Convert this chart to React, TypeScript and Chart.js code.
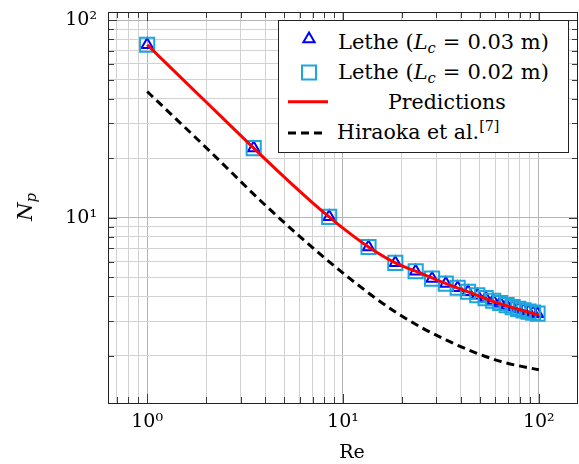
import React, { useEffect, useRef } from 'react';
import { Chart, registerables } from 'chart.js';

Chart.register(...registerables);

// ---------- data ----------
const reLethe = [1, 3.5, 8.5, 13.5, 18.5, 23.5, 28.5, 33.5, 38.5, 43.5, 48.5, 53.5, 58.5, 63.5, 68.5, 73.5, 78.5, 83.5, 88.5, 93.5, 98.5];
const npLethe003 = [75, 22.5, 10.1, 7.11, 5.91, 5.36, 4.92, 4.64, 4.42, 4.22, 4.05, 3.92, 3.8, 3.7, 3.61, 3.53, 3.46, 3.4, 3.35, 3.31, 3.27];
const npLethe002 = [75, 22.5, 10.1, 7.11, 5.91, 5.36, 4.92, 4.64, 4.42, 4.22, 4.05, 3.92, 3.8, 3.7, 3.61, 3.53, 3.46, 3.4, 3.35, 3.31, 3.27];

const rePred = [1, 2, 3.5, 5, 7, 8.5, 10, 13.5, 18.5, 23.5, 30, 40, 50, 60, 70, 80, 90, 100];
const npPred = [75, 38.5, 22.5, 16.1, 11.9, 10.1, 8.85, 7.11, 5.91, 5.36, 4.85, 4.35, 4.0, 3.74, 3.56, 3.42, 3.31, 3.22];

const reHiraoka = [1, 2.13, 3.89, 6.34, 10.9, 19.1, 33.8, 63.1, 100];
const npHiraoka = [43.5, 21.3, 11.9, 7.68, 4.9, 3.27, 2.4, 1.88, 1.7];

const xTickValues = [0.7, 0.8, 0.9, 1, 2, 3, 4, 5, 6, 7, 8, 9, 10, 20, 30, 40, 50, 60, 70, 80, 90, 100];
const yTickValues = [2, 3, 4, 5, 6, 7, 8, 9, 10, 20, 30, 40, 50, 60, 70, 80, 90, 100];
const xMin = 0.631;
const xMax = 158.5;
const yMin = 1.155;
const yMax = 109.8;

const SUP: Record<string, string> = { '-': '⁻', '0': '⁰', '1': '¹', '2': '²', '3': '³' };
const FONT = "'DejaVu Serif', 'Liberation Serif', serif";

const isMajor = (v: number) => Math.abs(Math.log10(v) - Math.round(Math.log10(v))) < 1e-9;
const decadeLabel = (v: number) => {
  if (!isMajor(v)) return '';
  const e = String(Math.round(Math.log10(v)));
  return '10' + e.split('').map((c) => SUP[c] || c).join('');
};

const framePlugin = {
  id: 'frameTicks',
  afterDraw(chart: any) {
    const { ctx, chartArea: a, scales } = chart;
    const xs = scales.x;
    const ys = scales.y;
    ctx.save();
    ctx.strokeStyle = '#3a3a3a';
    ctx.lineWidth = 1;
    ctx.beginPath();
    xTickValues.forEach((v) => {
      const p = Math.round(xs.getPixelForValue(v)) + 0.5;
      const L = isMajor(v) ? 9 : 6;
      ctx.moveTo(p, a.bottom);
      ctx.lineTo(p, a.bottom - L);
      ctx.moveTo(p, a.top);
      ctx.lineTo(p, a.top + L);
    });
    yTickValues.forEach((v) => {
      const p = Math.round(ys.getPixelForValue(v)) + 0.5;
      const L = isMajor(v) ? 9 : 6;
      ctx.moveTo(a.left, p);
      ctx.lineTo(a.left + L, p);
      ctx.moveTo(a.right, p);
      ctx.lineTo(a.right - L, p);
    });
    ctx.stroke();
    ctx.strokeStyle = '#222';
    ctx.strokeRect(Math.round(a.left) + 0.5, Math.round(a.top) + 0.5, Math.round(a.right - a.left) - 1, Math.round(a.bottom - a.top));
    ctx.restore();
  },
};

const toXY = (xs: number[], ys: number[]) => xs.map((x, i) => ({ x, y: ys[i] }));

const zeroPad = (s: any) => {
  s.paddingLeft = 0;
  s.paddingRight = 0;
  s.paddingTop = 0;
  s.paddingBottom = 0;
};

export default function App() {
  const ref = useRef<HTMLCanvasElement>(null);

  useEffect(() => {
    if (!ref.current) return;
    const gridColor = (c: any) => (c.tick && isMajor(c.tick.value) ? '#b4b4b4' : '#d2d2d2');
    const chart = new Chart(ref.current, {
      type: 'line',
      data: {
        datasets: [
          {
            label: 'Predictions',
            data: toXY(rePred, npPred),
            borderColor: '#ff0000',
            borderWidth: 3,
            pointRadius: 0,
            cubicInterpolationMode: 'monotone',
            fill: false,
          },
          {
            label: 'Hiraoka et al.',
            data: toXY(reHiraoka, npHiraoka),
            borderColor: '#000000',
            borderWidth: 3,
            borderDash: [8, 5],
            pointRadius: 0,
            cubicInterpolationMode: 'monotone',
            fill: false,
          },
          {
            label: 'Lethe (Lc = 0.02 m)',
            data: toXY(reLethe, npLethe002),
            showLine: false,
            pointStyle: 'rect',
            pointRadius: 10,
            pointBorderWidth: 2,
            pointBorderColor: 'rgb(30,165,220)',
            pointBackgroundColor: 'rgba(0,0,0,0)',
          },
          {
            label: 'Lethe (Lc = 0.03 m)',
            data: toXY(reLethe, npLethe003),
            showLine: false,
            pointStyle: 'triangle',
            pointRadius: 6.5,
            pointBorderWidth: 2,
            pointBorderColor: '#0000ff',
            pointBackgroundColor: 'rgba(0,0,0,0)',
          },
        ],
      } as any,
      options: {
        responsive: false,
        maintainAspectRatio: false,
        devicePixelRatio: 1,
        animation: false,
        events: [],
        layout: { autoPadding: false, padding: { top: 12, right: 1, left: 0, bottom: 0 } },
        plugins: { legend: { display: false }, tooltip: { enabled: false } },
        scales: {
          x: {
            type: 'logarithmic',
            bounds: 'data',
            offset: false,
            min: xMin,
            max: xMax,
            afterBuildTicks: (s: any) => {
              s.ticks = xTickValues.map((v) => ({ value: v }));
            },
            afterFit: (s: any) => {
              s.height = 61;
              zeroPad(s);
            },
            ticks: {
              autoSkip: false,
              maxRotation: 0,
              padding: 8,
              color: '#000',
              font: { family: FONT, size: 19 },
              callback: (v: any) => decadeLabel(Number(v)),
            },
            grid: { color: gridColor, drawTicks: false, lineWidth: 1 },
            border: { display: false },
            title: { display: false, text: 'Re' },
          },
          y: {
            type: 'logarithmic',
            bounds: 'data',
            offset: false,
            min: yMin,
            max: yMax,
            afterBuildTicks: (s: any) => {
              s.ticks = yTickValues.map((v) => ({ value: v }));
            },
            afterFit: (s: any) => {
              s.width = 108;
              zeroPad(s);
            },
            ticks: {
              autoSkip: false,
              padding: 11,
              color: '#000',
              font: { family: FONT, size: 19 },
              callback: (v: any) => decadeLabel(Number(v)),
            },
            grid: { color: gridColor, drawTicks: false, lineWidth: 1 },
            border: { display: false },
            title: { display: false, text: 'Np' },
          },
        },
      } as any,
      plugins: [framePlugin],
    });
    return () => chart.destroy();
  }, []);

  const LX = 279; // legend inner origin (page coords)
  const LY = 21;
  const textStyle = (x: number, cy: number, size: number): React.CSSProperties => ({
    position: 'absolute',
    left: x - LX,
    top: cy - 12 - LY,
    lineHeight: '24px',
    fontSize: size,
    fontFamily: FONT,
    whiteSpace: 'nowrap',
    color: '#000',
  });
  const subStyle: React.CSSProperties = { fontSize: '0.7em', verticalAlign: '-0.3em', lineHeight: 0 };
  const supStyle: React.CSSProperties = { fontSize: '0.7em', verticalAlign: '0.55em', lineHeight: 0 };
  const mathSp: React.CSSProperties = { display: 'inline-block', width: 7 };

  return (
    <div style={{ position: 'absolute', left: 0, top: 0, width: 579, height: 464, background: '#fff', overflow: 'hidden' }}>
      <canvas ref={ref} width={579} height={464} style={{ position: 'absolute', left: 0, top: 0, width: 579, height: 464 }} />
      <div
        style={{
          position: 'absolute',
          left: 25,
          top: 207,
          transform: 'translate(-50%, -50%) rotate(-90deg)',
          fontFamily: FONT,
          fontSize: 21,
          fontStyle: 'italic',
          whiteSpace: 'nowrap',
          lineHeight: '24px',
          color: '#000',
        }}
      >
        N<span style={subStyle}>p</span>
      </div>
      <div
        style={{
          position: 'absolute',
          left: 352,
          top: 451,
          transform: 'translate(-50%, -50%)',
          fontFamily: FONT,
          fontSize: 19,
          whiteSpace: 'nowrap',
          lineHeight: '24px',
          color: '#000',
        }}
      >
        Re
      </div>
      <div
        style={{
          position: 'absolute',
          left: 278,
          top: 20,
          width: 291,
          height: 133,
          boxSizing: 'border-box',
          border: '1px solid #222',
          background: '#fff',
        }}
      >
        <svg width={60} height={130} style={{ position: 'absolute', left: 0, top: 0 }}>
          <polygon
            points={`${309 - LX},${39 - LY - 6.5} ${309 - LX - 5.63},${39 - LY + 3.25} ${309 - LX + 5.63},${39 - LY + 3.25}`}
            fill="none"
            stroke="#0000ff"
            strokeWidth={2}
          />
          <rect x={309 - LX - 7} y={72.5 - LY - 7} width={14} height={14} fill="none" stroke="rgb(30,165,220)" strokeWidth={2} />
          <line x1={288 - LX} y1={101.7 - LY} x2={328 - LX} y2={101.7 - LY} stroke="#ff0000" strokeWidth={3} />
          <line x1={288 - LX} y1={133 - LY} x2={324 - LX} y2={133 - LY} stroke="#000" strokeWidth={3} strokeDasharray="8 5" />
        </svg>
        <div style={textStyle(338, 41.5, 21)}>
          Lethe (<i>L<span style={subStyle}>c</span></i>
          <span style={mathSp} />=<span style={mathSp} />
          0.03 m)
        </div>
        <div style={textStyle(338, 71.7, 21)}>
          Lethe (<i>L<span style={subStyle}>c</span></i>
          <span style={mathSp} />=<span style={mathSp} />
          0.02 m)
        </div>
        <div style={textStyle(388, 101.5, 20.5)}>Predictions</div>
        <div style={textStyle(337, 132.3, 20.5)}>
          Hiraoka et al.<span style={supStyle}>[7]</span>
        </div>
      </div>
    </div>
  );
}
